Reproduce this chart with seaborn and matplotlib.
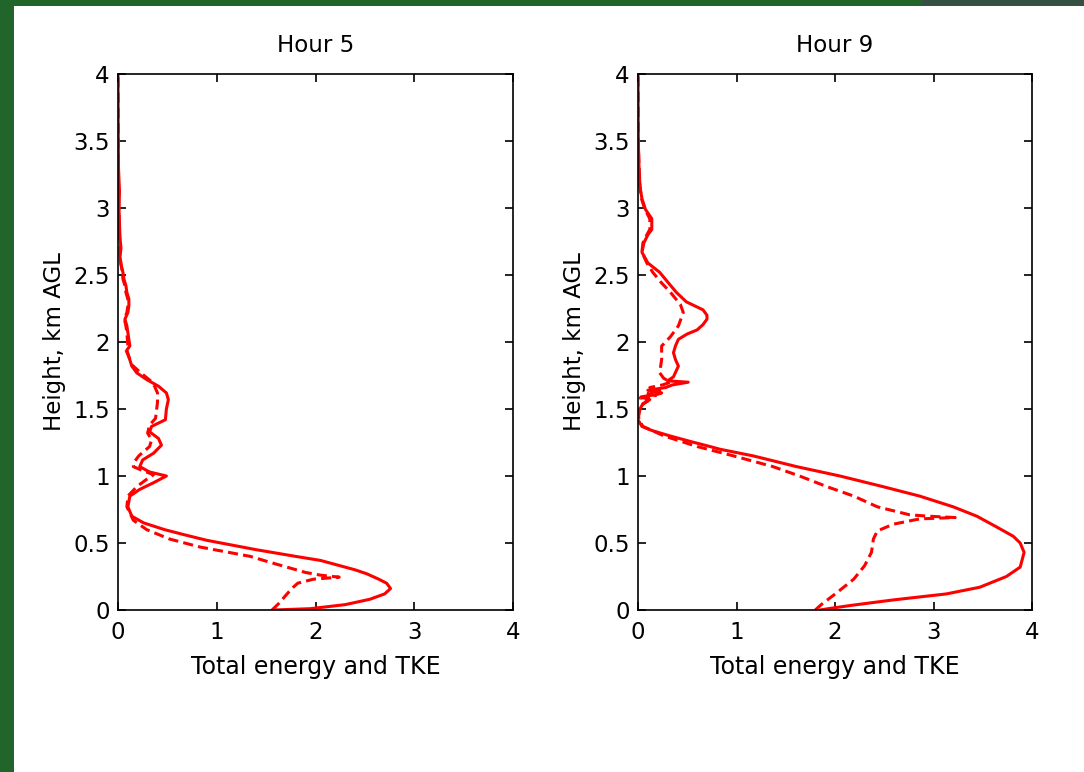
import numpy as np
import pandas as pd
import matplotlib
matplotlib.use("Agg")
import matplotlib.pyplot as plt
from matplotlib.patches import Rectangle
import seaborn as sns

# ---------------- data ----------------
panels = ["Hour 5", "Hour 9"]
kinds = ["Total energy", "TKE"]

h5_total_h = [0.00, 0.01, 0.04, 0.08, 0.12, 0.16, 0.20, 0.23, 0.27, 0.30,
              0.33, 0.37, 0.40, 0.45, 0.52, 0.56, 0.60, 0.65, 0.70, 0.77,
              0.85, 0.90, 0.95, 1.00, 1.03, 1.07, 1.12, 1.17, 1.23, 1.28,
              1.33, 1.37, 1.42, 1.50, 1.57, 1.62, 1.67, 1.72, 1.77, 1.82,
              1.89, 1.94, 1.97, 2.02, 2.07, 2.12, 2.17, 2.22, 2.27, 2.32,
              2.37, 2.42, 2.47, 2.52, 2.58, 2.64, 2.70, 2.78, 2.88, 3.00,
              3.12, 3.30, 3.60, 4.00]
h5_total_e = [1.58, 1.95, 2.30, 2.55, 2.70, 2.76, 2.72, 2.64, 2.52, 2.40,
              2.25, 2.05, 1.80, 1.40, 0.90, 0.68, 0.47, 0.26, 0.14, 0.10,
              0.12, 0.22, 0.36, 0.49, 0.32, 0.22, 0.25, 0.36, 0.44, 0.41,
              0.32, 0.34, 0.48, 0.49, 0.51, 0.49, 0.41, 0.29, 0.19, 0.14,
              0.11, 0.09, 0.12, 0.11, 0.10, 0.09, 0.07, 0.10, 0.11, 0.11,
              0.09, 0.08, 0.06, 0.05, 0.03, 0.02, 0.03, 0.02, 0.015, 0.01,
              0.015, 0.005, 0.002, 0.0]

h5_tke_h = [0.00, 0.05, 0.11, 0.16, 0.20, 0.23, 0.245, 0.26, 0.28, 0.32,
            0.36, 0.40, 0.47, 0.53, 0.60, 0.67, 0.77, 0.85, 0.92, 0.97,
            1.01, 1.04, 1.07, 1.10, 1.15, 1.22, 1.27, 1.32, 1.38, 1.43,
            1.55, 1.62, 1.67, 1.71, 1.77, 1.83, 1.89, 1.94, 1.97, 2.02,
            2.07, 2.12, 2.17, 2.22, 2.27, 2.32, 2.37, 2.42, 2.47, 2.52,
            2.58, 2.64, 2.72, 2.85, 3.00, 3.30, 4.00]
h5_tke_e = [1.56, 1.63, 1.70, 1.76, 1.82, 1.98, 2.24, 2.05, 1.90, 1.71,
            1.52, 1.34, 0.83, 0.52, 0.29, 0.155, 0.09, 0.10, 0.19, 0.28,
            0.36, 0.25, 0.155, 0.16, 0.21, 0.32, 0.34, 0.30, 0.32, 0.38,
            0.40, 0.40, 0.37, 0.33, 0.23, 0.14, 0.11, 0.08, 0.10, 0.095,
            0.09, 0.08, 0.065, 0.09, 0.10, 0.10, 0.08, 0.07, 0.05, 0.045,
            0.03, 0.02, 0.02, 0.012, 0.008, 0.004, 0.0]

h9_total_h = [0.00, 0.012, 0.037, 0.075, 0.12, 0.17, 0.25, 0.32, 0.43, 0.50,
              0.55, 0.62, 0.70, 0.77, 0.85, 0.92, 1.00, 1.07, 1.15, 1.20,
              1.22, 1.26, 1.30, 1.34, 1.37, 1.42, 1.50, 1.54, 1.57, 1.59,
              1.61, 1.62, 1.64, 1.66, 1.68, 1.70, 1.71, 1.74, 1.82, 1.87,
              1.92, 1.97, 2.02, 2.06, 2.09, 2.13, 2.17, 2.20, 2.24, 2.30,
              2.37, 2.44, 2.52, 2.59, 2.67, 2.74, 2.80, 2.84, 2.92, 2.99,
              3.07, 3.16, 3.31, 3.50, 4.00]
h9_total_e = [1.85, 1.95, 2.19, 2.59, 3.13, 3.47, 3.74, 3.88, 3.92, 3.88,
              3.81, 3.64, 3.44, 3.20, 2.86, 2.49, 2.05, 1.61, 1.17, 0.83,
              0.73, 0.52, 0.32, 0.14, 0.04, 0.00, 0.02, 0.05, 0.12, 0.03,
              0.20, 0.24, 0.10, 0.28, 0.35, 0.51, 0.30, 0.36, 0.41, 0.38,
              0.36, 0.38, 0.41, 0.50, 0.60, 0.66, 0.70, 0.70, 0.66, 0.49,
              0.39, 0.31, 0.22, 0.10, 0.04, 0.06, 0.10, 0.14, 0.14, 0.075,
              0.04, 0.02, 0.01, 0.003, 0.0]

h9_tke_h = [0.00, 0.04, 0.13, 0.23, 0.33, 0.43, 0.53, 0.59, 0.64, 0.68,
            0.69, 0.70, 0.71, 0.77, 0.85, 0.92, 1.00, 1.07, 1.15, 1.22,
            1.30, 1.34, 1.37, 1.42, 1.48, 1.53, 1.56, 1.58, 1.60, 1.62,
            1.64, 1.66, 1.68, 1.70, 1.73, 1.77, 1.87, 1.97, 2.04, 2.12,
            2.22, 2.28, 2.37, 2.44, 2.52, 2.59, 2.67, 2.74, 2.80, 2.84,
            2.92, 2.99, 3.07, 3.16, 3.31, 3.50, 4.00]
h9_tke_e = [1.80, 1.86, 2.02, 2.19, 2.30, 2.37, 2.39, 2.43, 2.59, 2.86,
            3.22, 2.95, 2.76, 2.43, 2.19, 1.92, 1.64, 1.37, 0.97, 0.60,
            0.26, 0.14, 0.05, 0.01, 0.00, 0.04, 0.10, 0.02, 0.18, 0.08,
            0.22, 0.12, 0.25, 0.33, 0.26, 0.22, 0.24, 0.24, 0.33, 0.41,
            0.46, 0.43, 0.33, 0.24, 0.15, 0.09, 0.04, 0.05, 0.09, 0.12,
            0.12, 0.07, 0.035, 0.02, 0.01, 0.003, 0.0]

x_ticks = [0, 1, 2, 3, 4]
x_ticklabels = ["0", "1", "2", "3", "4"]
y_ticks = [0, 0.5, 1, 1.5, 2, 2.5, 3, 3.5, 4]
y_ticklabels = ["0", "0.5", "1", "1.5", "2", "2.5", "3", "3.5", "4"]

# ---------------- build long table ----------------
frames = []
series = {
    ("Hour 5", "Total energy"): (h5_total_e, h5_total_h),
    ("Hour 5", "TKE"): (h5_tke_e, h5_tke_h),
    ("Hour 9", "Total energy"): (h9_total_e, h9_total_h),
    ("Hour 9", "TKE"): (h9_tke_e, h9_tke_h),
}
for (p, k), (e, h) in series.items():
    frames.append(pd.DataFrame({"energy": e, "height": h, "panel": p, "kind": k}))
df = pd.concat(frames, ignore_index=True)

# ---------------- style ----------------
sns.set_style("white")
plt.rcParams["font.family"] = ["DejaVu Sans"]
plt.rcParams["text.color"] = "black"
plt.rcParams["axes.labelcolor"] = "black"
plt.rcParams["xtick.color"] = "black"
plt.rcParams["ytick.color"] = "black"
plt.rcParams["xtick.direction"] = "in"
plt.rcParams["ytick.direction"] = "in"

fig = plt.figure(figsize=(10.84, 7.72), dpi=100)
fig.patch.set_facecolor("white")

# slide background strips
fig.patches.append(Rectangle((0, 0), 14 / 1084, 1, transform=fig.transFigure,
                             facecolor="#21652a", edgecolor="none", zorder=0))
fig.patches.append(Rectangle((0, 1 - 6 / 772), 922 / 1084, 6 / 772, transform=fig.transFigure,
                             facecolor="#21652a", edgecolor="none", zorder=0))
fig.patches.append(Rectangle((922 / 1084, 1 - 6 / 772), 162 / 1084, 6 / 772, transform=fig.transFigure,
                             facecolor="#354f41", edgecolor="none", zorder=0))

ax_pos = [(118 / 1084, 162 / 772, 395 / 1084, 536 / 772),
          (638 / 1084, 162 / 772, 394 / 1084, 536 / 772)]

for p, pos in zip(panels, ax_pos):
    ax = fig.add_axes(pos)
    sub = df[df["panel"] == p]
    sns.lineplot(data=sub, x="energy", y="height", style="kind", units="kind",
                 estimator=None, sort=False, color="#ff0000", linewidth=2.2,
                 dashes={"Total energy": "", "TKE": (3.3, 1.7)},
                 legend=False, ax=ax)
    ax.set_xlim(0, 4)
    ax.set_ylim(0, 4)
    ax.set_xticks(x_ticks)
    ax.set_xticklabels(x_ticklabels)
    ax.set_yticks(y_ticks)
    ax.set_yticklabels(y_ticklabels)
    ax.tick_params(axis="both", which="both", direction="in", length=6, width=1.2,
                   bottom=True, left=True, top=True, right=True,
                   labelsize=16.5, colors="black")
    ax.tick_params(axis="x", pad=8)
    ax.tick_params(axis="y", pad=6)
    for s in ax.spines.values():
        s.set_visible(True)
        s.set_color("black")
        s.set_linewidth(1.2)
    ax.set_title(p, fontsize=16.5, pad=16, color="black")
    ax.set_xlabel("Total energy and TKE", fontsize=17, labelpad=8)
    ax.set_ylabel("Height, km AGL", fontsize=16.5, labelpad=5)
    ax.set_facecolor("white")

fig.savefig("out.png", dpi=100)
